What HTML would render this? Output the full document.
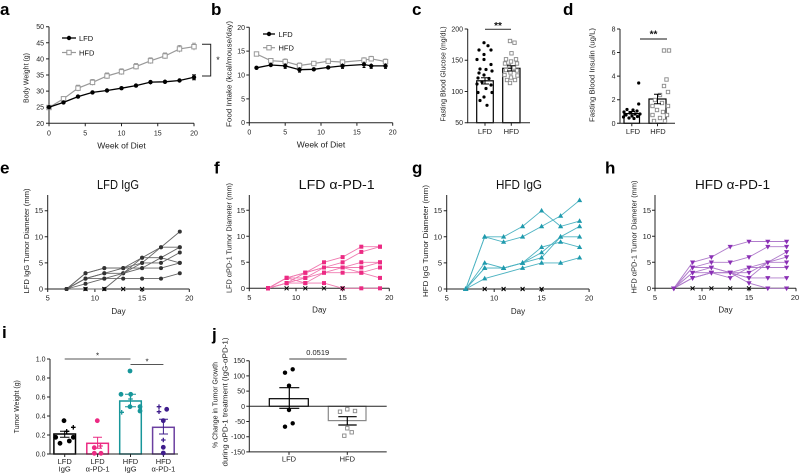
<!DOCTYPE html>
<html><head><meta charset="utf-8">
<style>
html,body{margin:0;padding:0;background:#fff}
svg{display:block;font-family:"Liberation Sans",Arial,sans-serif}
.ax{fill:none;stroke:#222;stroke-width:1}
.t{font-size:7px;fill:#222}
.t2{font-size:7.5px;fill:#222}
.yl{font-size:7.5px;fill:#222;text-anchor:middle}
.pl{font-size:17px;font-weight:bold;fill:#000}
.e{text-anchor:end}
.m{text-anchor:middle}
.ti{font-size:12.5px;fill:#111;text-anchor:middle}
.ln{fill:none}
.mk-bk{marker-start:url(#mBk);marker-mid:url(#mBk);marker-end:url(#mBk)}
.mk-sq{marker-start:url(#mSq);marker-mid:url(#mSq);marker-end:url(#mSq)}
.mk-e{marker-start:url(#mE);marker-mid:url(#mE);marker-end:url(#mE)}
.mk-p{marker-start:url(#mP);marker-mid:url(#mP);marker-end:url(#mP)}
.mk-t{marker-start:url(#mT);marker-mid:url(#mT);marker-end:url(#mT)}
.mk-h{marker-start:url(#mH);marker-mid:url(#mH);marker-end:url(#mH)}
</style></head><body>
<svg width="800" height="475" viewBox="0 0 800 475">
<defs>
<marker id="mBk" markerUnits="userSpaceOnUse" markerWidth="8" markerHeight="8" refX="4" refY="4"><circle cx="4" cy="4" r="2.2" fill="#000"/></marker>
<marker id="mSq" markerUnits="userSpaceOnUse" markerWidth="8" markerHeight="8" refX="4" refY="4"><rect x="1.8" y="1.8" width="4.4" height="4.4" fill="#fff" stroke="#999" stroke-width="1"/></marker>
<marker id="mE" markerUnits="userSpaceOnUse" markerWidth="8" markerHeight="8" refX="4" refY="4"><circle cx="4" cy="4" r="2" fill="#333"/></marker>
<marker id="mP" markerUnits="userSpaceOnUse" markerWidth="8" markerHeight="8" refX="4" refY="4"><rect x="2" y="2" width="4" height="4" fill="#ec2a83"/></marker>
<marker id="mT" markerUnits="userSpaceOnUse" markerWidth="8" markerHeight="8" refX="4" refY="4"><path d="M4,1.2L6.6,5.8H1.4Z" fill="#1f9aad"/></marker>
<marker id="mH" markerUnits="userSpaceOnUse" markerWidth="8" markerHeight="8" refX="4" refY="4"><path d="M4,6.8L6.6,2.2H1.4Z" fill="#8a2fb5"/></marker>
<path id="xm" d="M-2,-2L2,2M2,-2L-2,2" stroke="#000" stroke-width="1" fill="none"/>
<path id="plus" d="M-2.3,0H2.3M0,-2.3V2.3" stroke="currentColor" stroke-width="1.3" fill="none"/>
<rect id="osq" x="-1.7" y="-1.7" width="3.4" height="3.4" fill="#fff" stroke="#888" stroke-width="0.9"/>
</defs>

<!-- ========== Panel a ========== -->
<text class="pl" x="0" y="15">a</text>
<path class="ax" d="M49,26.7V123.3H194"/>
<path class="ax" d="M46,26.7H49M46,42.8H49M46,58.9H49M46,75H49M46,91.1H49M46,107.2H49M46,123.3H49M49,123.3V126.3M85.25,123.3V126.3M121.5,123.3V126.3M157.75,123.3V126.3M194,123.3V126.3"/>
<g class="t e">
<text x="44" y="29.2">50</text><text x="44" y="45.3">45</text><text x="44" y="61.4">40</text><text x="44" y="77.5">35</text><text x="44" y="93.6">30</text><text x="44" y="109.7">25</text><text x="44" y="125.8">20</text>
</g>
<g class="t m">
<text x="49" y="135.5">0</text><text x="85.25" y="135.5">5</text><text x="121.5" y="135.5">10</text><text x="157.75" y="135.5">15</text><text x="194" y="135.5">20</text>
</g>
<text x="121.5" y="148.5" class="m" font-size="8.5" fill="#222">Week of Diet</text>
<text class="yl" transform="translate(28.5,78) rotate(-90)" textLength="50" lengthAdjust="spacingAndGlyphs">Body Weight (g)</text>
<path d="M78,85.2V91.2M76,85.2H80M92.5,79.4V85.4M90.5,79.4H94.5M107,73V79M105,73H109M121.5,68.8V74.8M119.5,68.8H123.5M136,63.6V69.6M134,63.6H138M150.5,57.8V63.8M148.5,57.8H152.5M165,53V59M163,53H167M179.5,45.4V52.4M177.5,45.4H181.5M194,43.2V50.2M192,43.2H196M179.5,80.5" stroke="#999" stroke-width="0.9" fill="none"/>
<polyline class="ln mk-sq" stroke="#999" stroke-width="1.2" points="49,107.5 63.5,98.8 78,88.2 92.5,82.4 107,76 121.5,71.8 136,66.6 150.5,60.8 165,56 179.5,48.9 194,46.7"/>
<path d="M194,74.8V79.8M192,74.8H196M192,79.8H196M179.5,78.5V82.5M165,79.5V84M150.5,80V84.5" stroke="#000" stroke-width="0.9" fill="none"/>
<polyline class="ln mk-bk" stroke="#000" stroke-width="1.3" points="49,107.2 63.5,102.4 78,96.6 92.5,92.4 107,90.5 121.5,88.2 136,85.6 150.5,82.1 165,81.8 179.5,80.5 194,77.3"/>
<path d="M62,38H76" stroke="#000" stroke-width="1.3"/><circle cx="69" cy="38" r="2.2" fill="#000"/>
<text x="79" y="41" font-size="7.5" fill="#111">LFD</text>
<path d="M62,52.5H76" stroke="#999" stroke-width="1.2"/><rect x="66.8" y="50.3" width="4.4" height="4.4" fill="#fff" stroke="#999"/>
<text x="79" y="55.3" font-size="7.5" fill="#111">HFD</text>
<path d="M202,44.3H210.7V76H202" fill="none" stroke="#222" stroke-width="1"/>
<text x="218" y="63" font-size="9" class="m" fill="#222">*</text>

<!-- ========== Panel b ========== -->
<text class="pl" x="211" y="15">b</text>
<path class="ax" d="M249.3,27.3V122.7H392.7"/>
<path class="ax" d="M246.3,27.3H249.3M246.3,51.15H249.3M246.3,75H249.3M246.3,98.85H249.3M246.3,122.7H249.3M249.3,122.7V125.7M285.2,122.7V125.7M321,122.7V125.7M356.9,122.7V125.7M392.7,122.7V125.7"/>
<g class="t e">
<text x="245" y="29.8">20</text><text x="245" y="53.65">15</text><text x="245" y="77.5">10</text><text x="245" y="101.35">5</text><text x="245" y="125.2">0</text>
</g>
<g class="t m">
<text x="249.3" y="134.5">0</text><text x="285.2" y="134.5">5</text><text x="321" y="134.5">10</text><text x="356.9" y="134.5">15</text><text x="392.7" y="134.5">20</text>
</g>
<text x="321" y="147.5" class="m" font-size="8.5" fill="#222">Week of Diet</text>
<text class="yl" transform="translate(231.5,74) rotate(-90)" textLength="106" lengthAdjust="spacingAndGlyphs">Food Intake (kcal/mouse/day)</text>
<path d="M285.2,59V64M283.7,59H286.7M299.5,63V68M298,63H301M364,57.7V62.7M362.5,57.7H365.5M371.2,56.3V61.3M369.7,56.3H372.7M385.5,59.1V64.1M384,59.1H387" stroke="#999" stroke-width="0.9" fill="none"/>
<polyline class="ln mk-sq" stroke="#999" stroke-width="1.2" points="256.5,54 270.8,60.7 285.2,61.6 299.5,65.5 313.8,63.5 328.2,61.2 342.5,62.1 364,60.2 371.2,58.8 385.5,61.6"/>
<path d="M285.2,63.4V68.4M283.7,68.4H286.7M299.5,67.2V72.2M298,72.2H301M364,61.5V67.5M362.5,67.5H365.5M371.2,63.4V68.4M369.7,68.4H372.7M385.5,63.4V68.4M384,68.4H387M342.5,63.4V68.4M341,68.4H344" stroke="#000" stroke-width="0.9" fill="none"/>
<polyline class="ln mk-bk" stroke="#000" stroke-width="1.3" points="256.5,67.8 270.8,65 285.2,65.9 299.5,69.7 313.8,69.3 328.2,67.4 342.5,65.9 364,64.5 371.2,65.9 385.5,65.9"/>
<path d="M263,34H275" stroke="#000" stroke-width="1.3"/><circle cx="269" cy="34" r="2.2" fill="#000"/>
<text x="278.5" y="36.8" font-size="7.5" fill="#111">LFD</text>
<path d="M263,47.7H275" stroke="#999" stroke-width="1.2"/><rect x="266.8" y="45.5" width="4.4" height="4.4" fill="#fff" stroke="#999"/>
<text x="278.5" y="50.5" font-size="7.5" fill="#111">HFD</text>

<!-- ========== Panel c ========== -->
<text class="pl" x="412" y="15">c</text>
<rect x="476.7" y="80.8" width="16.6" height="41.9" fill="#fff" stroke="#000" stroke-width="1.2"/>
<rect x="502.7" y="68.3" width="17.3" height="54.4" fill="#fff" stroke="#000" stroke-width="1.2"/>
<path class="ax" d="M467.7,29V122.7H530"/>
<path class="ax" d="M464.7,29H467.7M464.7,60.2H467.7M464.7,91.5H467.7M464.7,122.7H467.7M485,122.7V125.7M511.3,122.7V125.7"/>
<g class="t e">
<text x="463" y="31.5">200</text><text x="463" y="62.7">150</text><text x="463" y="94">100</text><text x="463" y="125.2">50</text>
</g>
<g fill="#000">
<circle cx="484" cy="42.7" r="1.6"/><circle cx="488" cy="45.7" r="1.6"/><circle cx="479" cy="50" r="1.6"/><circle cx="491" cy="50" r="1.6"/><circle cx="484" cy="54.5" r="1.6"/><circle cx="477" cy="59.5" r="1.6"/><circle cx="484" cy="59.5" r="1.6"/><circle cx="491" cy="64.5" r="1.6"/><circle cx="480" cy="69" r="1.6"/><circle cx="486" cy="69.5" r="1.6"/><circle cx="492" cy="71" r="1.6"/><circle cx="479" cy="73" r="1.6"/><circle cx="484" cy="75" r="1.6"/><circle cx="478" cy="78" r="1.6"/><circle cx="489" cy="78.5" r="1.6"/><circle cx="482" cy="82" r="1.6"/><circle cx="477" cy="84" r="1.6"/><circle cx="491" cy="85" r="1.6"/><circle cx="486" cy="88.5" r="1.6"/><circle cx="478" cy="92.5" r="1.6"/><circle cx="492" cy="92.5" r="1.6"/><circle cx="484" cy="97" r="1.6"/><circle cx="480" cy="100.5" r="1.6"/><circle cx="487" cy="105.3" r="1.6"/>
</g>
<g>
<use href="#osq" x="510" y="41"/><use href="#osq" x="514.5" y="42.7"/><use href="#osq" x="511.5" y="53.3"/><use href="#osq" x="506" y="59.3"/><use href="#osq" x="516" y="59.3"/><use href="#osq" x="511" y="61.5"/><use href="#osq" x="505" y="63.5"/><use href="#osq" x="517" y="63.5"/><use href="#osq" x="509" y="66"/><use href="#osq" x="514" y="67.5"/><use href="#osq" x="506" y="70"/><use href="#osq" x="517" y="70.5"/><use href="#osq" x="510.5" y="72.5"/><use href="#osq" x="504.5" y="75"/><use href="#osq" x="517.5" y="75.5"/><use href="#osq" x="511" y="77.5"/><use href="#osq" x="507" y="80"/><use href="#osq" x="515" y="80"/><use href="#osq" x="510" y="83"/>
</g>
<path d="M485,77.7V84M481,77.7H489M481,84H489M511.3,65.7V71M507,65.7H515.5M507,71H515.5" stroke="#000" stroke-width="1" fill="none"/>
<path d="M485,29.3H511" stroke="#444" stroke-width="1.2"/>
<text x="498" y="29" class="m" font-size="10" font-weight="bold" fill="#111">**</text>
<g class="t2 m"><text x="485" y="134">LFD</text><text x="511.3" y="134">HFD</text></g>
<text class="yl" transform="translate(445.5,74) rotate(-90)" textLength="95" lengthAdjust="spacingAndGlyphs">Fasting Blood Glucose (mg/dL)</text>

<!-- ========== Panel d ========== -->
<text class="pl" x="563" y="15">d</text>
<rect x="624" y="113.6" width="15.5" height="9.7" fill="#fff" stroke="#000" stroke-width="1.2"/>
<rect x="649" y="99" width="17" height="24.3" fill="#fff" stroke="#000" stroke-width="1.2"/>
<path class="ax" d="M620,29V123.3H675"/>
<path class="ax" d="M617,29H620M617,52.5H620M617,76.1H620M617,99.7H620M617,123.3H620M631.8,123.3V126.3M657.5,123.3V126.3"/>
<g class="t e">
<text x="615.5" y="31.5">8</text><text x="615.5" y="55">6</text><text x="615.5" y="78.6">4</text><text x="615.5" y="102.2">2</text><text x="615.5" y="125.8">0</text>
</g>
<g fill="#000">
<circle cx="638.7" cy="83" r="1.6"/><circle cx="638.7" cy="104" r="1.6"/><circle cx="627" cy="109.5" r="1.6"/><circle cx="633" cy="110" r="1.6"/><circle cx="637" cy="111" r="1.6"/><circle cx="624" cy="112" r="1.6"/><circle cx="630" cy="113" r="1.6"/><circle cx="635" cy="114" r="1.6"/><circle cx="626" cy="115" r="1.6"/><circle cx="632" cy="116" r="1.6"/><circle cx="637.5" cy="116.5" r="1.6"/><circle cx="623.5" cy="117" r="1.6"/><circle cx="629" cy="118" r="1.6"/><circle cx="634" cy="118.5" r="1.6"/><circle cx="640" cy="114" r="1.6"/>
</g>
<g>
<use href="#osq" x="664" y="50.5"/><use href="#osq" x="669" y="50.5"/><use href="#osq" x="666.5" y="79.5"/><use href="#osq" x="664" y="86"/><use href="#osq" x="668" y="92"/><use href="#osq" x="660" y="95"/><use href="#osq" x="655" y="100"/><use href="#osq" x="662" y="103"/><use href="#osq" x="652.5" y="106"/><use href="#osq" x="668" y="106"/><use href="#osq" x="657" y="110"/><use href="#osq" x="663" y="112"/><use href="#osq" x="652.5" y="115"/><use href="#osq" x="667" y="115"/><use href="#osq" x="660" y="118"/><use href="#osq" x="654" y="121"/><use href="#osq" x="665" y="121"/>
</g>
<path d="M631.8,111.5V116M628.5,111.5H635M657.5,94.3V103.7M654,94.3H661M654,103.7H661" stroke="#000" stroke-width="1" fill="none"/>
<path d="M640,39H667" stroke="#444" stroke-width="1.2"/>
<text x="653.5" y="37.5" class="m" font-size="10" font-weight="bold" fill="#111">**</text>
<g class="t2 m"><text x="633" y="134">LFD</text><text x="658" y="134">HFD</text></g>
<text class="yl" transform="translate(594.5,75) rotate(-90)" textLength="94" lengthAdjust="spacingAndGlyphs">Fasting Blood Insulin (ug/L)</text>

<!-- ========== Panel e ========== -->
<text class="pl" x="0" y="173.5">e</text>
<text class="ti" x="118" y="189" textLength="42" lengthAdjust="spacingAndGlyphs">LFD IgG</text>
<path class="ax" d="M47.7,195V289H189.3"/>
<path class="ax" d="M44.7,289H47.7M44.7,262.9H47.7M44.7,236.8H47.7M44.7,210.7H47.7M47.7,289V292M94.9,289V292M142.1,289V292M189.3,289V292"/>
<g class="t2 e"><text x="43" y="291.5">0</text><text x="43" y="265.4">5</text><text x="43" y="239.3">10</text><text x="43" y="213.2">15</text></g>
<g class="t2 m"><text x="47.7" y="300.5">5</text><text x="94.9" y="300.5">10</text><text x="142.1" y="300.5">15</text><text x="189.3" y="300.5">20</text></g>
<text x="118.5" y="314" class="m" font-size="8" fill="#222">Day</text>
<text class="yl" transform="translate(29,241) rotate(-90)" textLength="105" lengthAdjust="spacingAndGlyphs">LFD IgG Tumor Diameter (mm)</text>
<g stroke="#666" stroke-width="0.9">
<polyline class="ln mk-e" points="66.6,289 85.5,273.3 104.3,268.1 123.2,268.1 142.1,262.9 161,247.2 179.8,247.2"/>
<polyline class="ln mk-e" points="66.6,289 85.5,278.6 104.3,273.3 123.2,268.1 142.1,257.7 161,257.7 179.8,262.9"/>
<polyline class="ln mk-e" points="66.6,289 85.5,278.6 104.3,273.3 123.2,273.3 142.1,262.9 161,262.9 179.8,252.5"/>
<polyline class="ln mk-e" points="66.6,289 85.5,283.8 104.3,278.6 123.2,273.3 142.1,268.1 161,268.1 179.8,262.9"/>
<polyline class="ln mk-e" points="66.6,289 85.5,278.6 104.3,278.6 123.2,278.6 142.1,278.6 161,278.6 179.8,273.3"/>
<polyline class="ln mk-e" points="66.6,289 85.5,289 104.3,289 142.1,257.7 161,247.2 179.8,231.6"/>
<polyline class="ln mk-e" points="66.6,289 85.5,273.3 104.3,268.1 123.2,268.1 142.1,268.1 161,257.7 179.8,247.2"/>
</g>
<use href="#xm" x="85.5" y="289"/><use href="#xm" x="104.3" y="289"/><use href="#xm" x="123.2" y="289"/><use href="#xm" x="142.1" y="289"/>

<!-- ========== Panel f ========== -->
<text class="pl" x="214" y="173.5">f</text>
<text class="ti" x="336.7" y="189" textLength="76" lengthAdjust="spacingAndGlyphs">LFD α-PD-1</text>
<path class="ax" d="M249.3,195V288.3H389.3"/>
<path class="ax" d="M246.3,288.3H249.3M246.3,262.3H249.3M246.3,236.3H249.3M246.3,210.3H249.3M249.3,288.3V291.3M296,288.3V291.3M342.6,288.3V291.3M389.3,288.3V291.3"/>
<g class="t2 e"><text x="245" y="290.8">0</text><text x="245" y="264.8">5</text><text x="245" y="238.8">10</text><text x="245" y="212.8">15</text></g>
<g class="t2 m"><text x="249.3" y="300">5</text><text x="296" y="300">10</text><text x="342.6" y="300">15</text><text x="389.3" y="300">20</text></g>
<text x="319.3" y="312.5" class="m" font-size="8" fill="#222">Day</text>
<text class="yl" transform="translate(231.5,238) rotate(-90)" textLength="110" lengthAdjust="spacingAndGlyphs">LFD αPD-1 Tumor Diameter (mm)</text>
<g stroke="#f07ab0" stroke-width="0.9">
<polyline class="ln mk-p" points="268,288.3 286.6,277.9 305.3,272.7 324,262.3 342.6,257.1 361.3,246.7 380,246.7"/>
<polyline class="ln mk-p" points="268,288.3 286.6,277.9 305.3,277.9 324,267.5 342.6,262.3 361.3,251.9 380,246.7"/>
<polyline class="ln mk-p" points="268,288.3 286.6,277.9 305.3,272.7 324,267.5 342.6,267.5 361.3,262.3 380,262.3"/>
<polyline class="ln mk-p" points="268,288.3 286.6,283.1 305.3,277.9 324,272.7 342.6,267.5 361.3,267.5 380,262.3"/>
<polyline class="ln mk-p" points="268,288.3 286.6,283.1 305.3,283.1 324,272.7 342.6,272.7 361.3,272.7 380,277.9"/>
<polyline class="ln mk-p" points="268,288.3 286.6,277.9 305.3,283.1 324,283.1 342.6,288.3 361.3,288.3 380,288.3"/>
<polyline class="ln mk-p" points="268,288.3 286.6,283.1 305.3,272.7 324,267.5 342.6,267.5 361.3,272.7 380,267.5"/>
</g>
<use href="#xm" x="286.6" y="288.3"/><use href="#xm" x="305.3" y="288.3"/><use href="#xm" x="324" y="288.3"/><use href="#xm" x="342.6" y="288.3"/>

<!-- ========== Panel g ========== -->
<text class="pl" x="412" y="173.5">g</text>
<text class="ti" x="519" y="189" textLength="46" lengthAdjust="spacingAndGlyphs">HFD IgG</text>
<path class="ax" d="M446.7,195V289H589.1"/>
<path class="ax" d="M443.7,289H446.7M443.7,262.9H446.7M443.7,236.8H446.7M443.7,210.7H446.7M446.7,289V292M494.2,289V292M541.6,289V292M589.1,289V292"/>
<g class="t2 e"><text x="442" y="291.5">0</text><text x="442" y="265.4">5</text><text x="442" y="239.3">10</text><text x="442" y="213.2">15</text></g>
<g class="t2 m"><text x="446.7" y="300.5">5</text><text x="494.2" y="300.5">10</text><text x="541.6" y="300.5">15</text><text x="589.1" y="300.5">20</text></g>
<text x="518" y="314" class="m" font-size="8" fill="#222">Day</text>
<text class="yl" transform="translate(428,241) rotate(-90)" textLength="112" lengthAdjust="spacingAndGlyphs">HFD IgG Tumor Diameter (mm)</text>
<g stroke="#4db3c2" stroke-width="0.9">
<polyline class="ln mk-t" points="465.7,289 484.7,236.8 503.6,236.8 522.6,226.4 541.6,210.7 560.6,226.4 579.6,221.1"/>
<polyline class="ln mk-t" points="465.7,289 484.7,236.8 503.6,242 522.6,236.8 541.6,226.4 560.6,215.9 579.6,200.3"/>
<polyline class="ln mk-t" points="465.7,289 484.7,262.9 503.6,268.1 522.6,262.9 541.6,247.2 560.6,242 579.6,247.2"/>
<polyline class="ln mk-t" points="465.7,289 484.7,268.1 503.6,268.1 522.6,262.9 541.6,252.5 560.6,236.8 579.6,226.4"/>
<polyline class="ln mk-t" points="465.7,289 484.7,268.1 503.6,268.1 522.6,262.9 541.6,257.7 560.6,236.8 579.6,236.8"/>
<polyline class="ln mk-t" points="465.7,289 484.7,278.6 522.6,268.1 541.6,262.9 560.6,262.9 579.6,257.7"/>
</g>
<use href="#xm" x="484.7" y="289"/><use href="#xm" x="503.6" y="289"/><use href="#xm" x="522.6" y="289"/><use href="#xm" x="541.6" y="289"/>

<!-- ========== Panel h ========== -->
<text class="pl" x="605" y="173.5">h</text>
<text class="ti" x="732.5" y="189" textLength="75" lengthAdjust="spacingAndGlyphs">HFD α-PD-1</text>
<path class="ax" d="M655,195V288.3H796"/>
<path class="ax" d="M652,288.3H655M652,262.3H655M652,236.3H655M652,210.3H655M655,288.3V291.3M702,288.3V291.3M749,288.3V291.3M796,288.3V291.3"/>
<g class="t2 e"><text x="651" y="290.8">0</text><text x="651" y="264.8">5</text><text x="651" y="238.8">10</text><text x="651" y="212.8">15</text></g>
<g class="t2 m"><text x="655" y="300">5</text><text x="702" y="300">10</text><text x="749" y="300">15</text><text x="795" y="300">20</text></g>
<text x="725.5" y="312.5" class="m" font-size="8" fill="#222">Day</text>
<text class="yl" transform="translate(636.5,237) rotate(-90)" textLength="113" lengthAdjust="spacingAndGlyphs">HFD αPD-1 Tumor Diameter (mm)</text>
<g stroke="#b07ccb" stroke-width="0.9">
<polyline class="ln mk-h" points="673.8,288.3 692.6,262.3 711.4,257.1 730.2,246.7 749,241.5 767.8,241.5 786.6,241.5"/>
<polyline class="ln mk-h" points="673.8,288.3 692.6,267.5 711.4,262.3 730.2,262.3 749,257.1 767.8,246.7 786.6,246.7"/>
<polyline class="ln mk-h" points="673.8,288.3 692.6,272.7 711.4,267.5 730.2,272.7 749,277.9 767.8,277.9 786.6,277.9"/>
<polyline class="ln mk-h" points="673.8,288.3 692.6,267.5 711.4,267.5 730.2,272.7 749,283.1 767.8,288.3 786.6,288.3"/>
<polyline class="ln mk-h" points="673.8,288.3 692.6,277.9 711.4,272.7 730.2,272.7 749,267.5 767.8,262.3 786.6,251.9"/>
<polyline class="ln mk-h" points="673.8,288.3 692.6,277.9 711.4,272.7 730.2,277.9 749,267.5 767.8,267.5 786.6,267.5"/>
<polyline class="ln mk-h" points="673.8,288.3 692.6,272.7 711.4,272.7 730.2,272.7 749,272.7 767.8,262.3 786.6,257.1"/>
<polyline class="ln mk-h" points="673.8,288.3 692.6,277.9 711.4,272.7 730.2,272.7 749,277.9 767.8,262.3 786.6,262.3"/>
</g>
<use href="#xm" x="692.6" y="288.3"/><use href="#xm" x="711.4" y="288.3"/><use href="#xm" x="730.2" y="288.3"/><use href="#xm" x="749" y="288.3"/>

<!-- ========== Panel i ========== -->
<text class="pl" x="2" y="338">i</text>
<rect x="53.9" y="434" width="21.6" height="20" fill="#fff" stroke="#000" stroke-width="1.5"/>
<rect x="86.8" y="443.3" width="21.6" height="10.7" fill="#fff" stroke="#ec2a83" stroke-width="1.5"/>
<rect x="119.7" y="401" width="21.6" height="53" fill="#fff" stroke="#17969a" stroke-width="1.5"/>
<rect x="152.6" y="427.3" width="21.6" height="26.7" fill="#fff" stroke="#6b3fa0" stroke-width="1.5"/>
<path class="ax" d="M50,359V454H178"/>
<path class="ax" d="M47,359H50M47,378H50M47,397H50M47,416H50M47,435H50M47,454H50M64.7,454V457M97.6,454V457M130.5,454V457M163.4,454V457"/>
<g class="t e"><text x="45.5" y="361.5">1.0</text><text x="45.5" y="380.5">0.8</text><text x="45.5" y="399.5">0.6</text><text x="45.5" y="418.5">0.4</text><text x="45.5" y="437.5">0.2</text><text x="45.5" y="456.5">0.0</text></g>
<g fill="#000"><circle cx="64" cy="420.7" r="2.4"/><circle cx="55.7" cy="437.3" r="2.4"/><circle cx="60" cy="443.3" r="2.4"/><circle cx="69.3" cy="441" r="2.4"/><circle cx="73.3" cy="437.3" r="2.4"/></g>
<use href="#plus" x="73.3" y="427.3" style="color:#000"/><use href="#plus" x="66.7" y="431.3" style="color:#000"/>
<g fill="#ec2a83"><circle cx="97.3" cy="420.7" r="2.4"/><circle cx="94.3" cy="447.7" r="2.4"/><circle cx="94.3" cy="453.3" r="2.4"/><circle cx="101" cy="453.3" r="2.4"/></g>
<use href="#plus" x="100.5" y="446" style="color:#ec2a83"/>
<g fill="#17969a"><circle cx="130" cy="371" r="2.4"/><circle cx="121" cy="394.3" r="2.4"/><circle cx="130.7" cy="394.3" r="2.4"/><circle cx="130" cy="406.7" r="2.4"/><circle cx="140" cy="406.7" r="2.4"/><circle cx="140" cy="411" r="2.4"/></g>
<use href="#plus" x="121.7" y="412.3" style="color:#17969a"/><use href="#plus" x="130.5" y="399" style="color:#17969a"/>
<g fill="#3f1d8c"><circle cx="166.7" cy="409.3" r="2.4"/><circle cx="163.3" cy="420.7" r="2.4"/><circle cx="163.3" cy="447.3" r="2.4"/><circle cx="163.3" cy="453" r="2.4"/></g>
<use href="#plus" x="159" y="406.7" style="color:#3f1d8c"/><use href="#plus" x="159" y="411.7" style="color:#3f1d8c"/><use href="#plus" x="163.3" y="440" style="color:#3f1d8c"/>
<path d="M64.7,431.3V437.3M60,431.3H69.5M60,437.3H69.5" stroke="#000" stroke-width="1" fill="none"/>
<path d="M97.6,437.3V448.3M93,437.3H102M93,448.3H102" stroke="#ec2a83" stroke-width="1" fill="none"/>
<path d="M130.5,394.3V406.7M125,394.3H136M125,406.7H136" stroke="#17969a" stroke-width="1" fill="none"/>
<path d="M163.4,419.3V434M159,419.3H168M159,434H168" stroke="#3f1d8c" stroke-width="1" fill="none"/>
<path d="M64.7,359H130.5M130.5,364.5H163.4" stroke="#555" stroke-width="1.1" fill="none"/>
<text x="97.6" y="358.5" class="m" font-size="8" fill="#222">*</text>
<text x="147" y="364.5" class="m" font-size="8" fill="#222">*</text>
<g class="t2 m">
<text x="64.7" y="464">LFD</text><text x="64.7" y="471.5">IgG</text>
<text x="97.6" y="464">LFD</text><text x="97.6" y="471.5">α-PD-1</text>
<text x="130.5" y="464">HFD</text><text x="130.5" y="471.5">IgG</text>
<text x="163.4" y="464">HFD</text><text x="163.4" y="471.5">α-PD-1</text>
</g>
<text class="yl" transform="translate(19,406.7) rotate(-90)" textLength="53" lengthAdjust="spacingAndGlyphs">Tumor Weight (g)</text>

<!-- ========== Panel j ========== -->
<text class="pl" x="212" y="340">j</text>
<rect x="269.3" y="398.7" width="39" height="7.6" fill="#fff" stroke="#000" stroke-width="1.2"/>
<rect x="328.3" y="406.3" width="37.7" height="14.3" fill="#fff" stroke="#888" stroke-width="1.2"/>
<path class="ax" d="M249.3,360.7V451.9H386.7M249.3,406.3H386.7"/>
<path class="ax" d="M246.3,360.7H249.3M246.3,375.9H249.3M246.3,391.1H249.3M246.3,406.3H249.3M246.3,421.5H249.3M246.3,436.7H249.3M246.3,451.9H249.3M289,451.9V454.9M347.3,451.9V454.9"/>
<g class="t e"><text x="245" y="363.2">150</text><text x="245" y="378.4">100</text><text x="245" y="393.6">50</text><text x="245" y="408.8">0</text><text x="245" y="424">-50</text><text x="245" y="439.2">-100</text><text x="245" y="454.4">-150</text></g>
<g fill="#000"><circle cx="285" cy="372.7" r="2.2"/><circle cx="292.7" cy="369.3" r="2.2"/><circle cx="289" cy="385.7" r="2.2"/><circle cx="289" cy="410" r="2.2"/><circle cx="285" cy="426.7" r="2.2"/><circle cx="292.7" cy="423.3" r="2.2"/></g>
<path d="M289.3,387.7V408.3M279.3,387.7H299.3M279.3,408.3H299.3" stroke="#000" stroke-width="1.2" fill="none"/>
<g><use href="#osq" x="340" y="411.7"/><use href="#osq" x="347.3" y="409.3"/><use href="#osq" x="355" y="411"/><use href="#osq" x="347.3" y="428.3"/><use href="#osq" x="344.3" y="435.7"/><use href="#osq" x="351.7" y="432.3"/></g>
<path d="M347.3,416.7V425M338.3,416.7H356.7M338.3,425H356.7" stroke="#000" stroke-width="1.2" fill="none"/>
<path d="M289.3,359H346.7" stroke="#444" stroke-width="1.1"/>
<text x="317.7" y="355" class="m" font-size="7.5" fill="#222">0.0519</text>
<g class="t2 m"><text x="289" y="461.5">LFD</text><text x="347.3" y="461.5">HFD</text></g>
<text class="yl" transform="translate(217.5,405) rotate(-90)" textLength="86" lengthAdjust="spacingAndGlyphs">% Change in Tumor Growth</text>
<text class="yl" transform="translate(227.5,402) rotate(-90)" textLength="129" lengthAdjust="spacingAndGlyphs">during αPD-1 treatment (IgG-αPD-1)</text>
</svg>
</body></html>
